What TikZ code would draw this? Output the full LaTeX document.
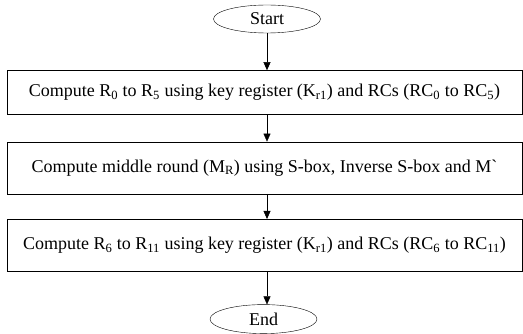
\documentclass[tikz,border=0pt]{standalone}
\usepackage{fontspec}
\setmainfont{Liberation Serif}[Ligatures=TeXOff]
\usepackage{tikz}
\usetikzlibrary{arrows.meta,positioning,shapes.geometric}

\begin{document}
\begin{tikzpicture}[x=1pt, y=1pt,
  font=\fontsize{18}{21}\selectfont,
  term/.style={ellipse, draw, minimum width=107pt, minimum height=28pt, inner sep=0pt},
  box/.style={rectangle, draw, minimum width=515pt, inner sep=0pt, align=center},
  arrow/.style={-{Triangle[length=8pt, width=7pt]}},
]
\useasboundingbox (0,0) rectangle (523,-334);
\node[term] (start) at (267,-19) {Start};
\node[box, minimum height=44pt, below=37pt of start.south, anchor=north, xshift=-2.5pt] (kr1) {Compute R\textsubscript{0} to R\textsubscript{5} using key register (K\textsubscript{r1}) and RCs (RC\textsubscript{0} to RC\textsubscript{5})};
\node[box, minimum height=52pt, below=27pt of kr1] (mid) {Compute middle round (M\textsubscript{R}) using S-box, Inverse S-box and M`};
\node[box, minimum height=52pt, below=25pt of mid] (kr2) {Compute R\textsubscript{6} to R\textsubscript{11} using key register (K\textsubscript{r1}) and RCs (RC\textsubscript{6} to RC\textsubscript{11})};
\node[term, minimum height=29pt, below=33pt of kr2.south, anchor=north, xshift=-1pt] (end) {End};

\draw[arrow] (start) -- (start |- kr1.north);
\draw[arrow] (start |- kr1.south) -- (start |- mid.north);
\draw[arrow] (start |- mid.south) -- (start |- kr2.north);
\draw[arrow] (start |- kr2.south) -- (end.north -| start);
\end{tikzpicture}
\end{document}
